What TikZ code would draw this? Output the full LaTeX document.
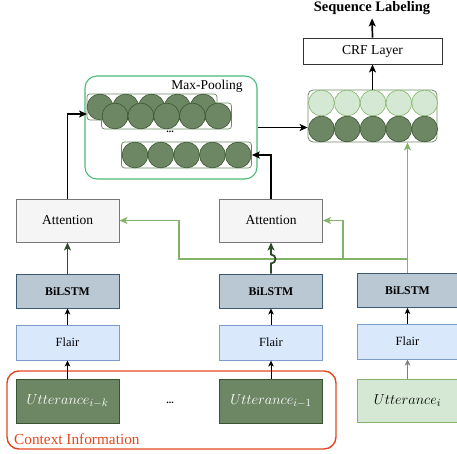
\documentclass[tikz,border=0pt]{standalone}
\usepackage{fontspec}
\setmainfont{Liberation Serif}
\usetikzlibrary{arrows.meta,calc}
\definecolor{attfill}{HTML}{F5F5F5}
\definecolor{attdraw}{HTML}{777777}
\definecolor{bilfill}{HTML}{BAC8D3}
\definecolor{bildraw}{HTML}{3B5A72}
\definecolor{flfill}{HTML}{DAE8FC}
\definecolor{fldraw}{HTML}{7C9CCB}
\definecolor{dkfill}{HTML}{6D8764}
\definecolor{dkdraw}{HTML}{3A5431}
\definecolor{ltfill}{HTML}{D5E8D4}
\definecolor{ltdraw}{HTML}{82B366}
\definecolor{mpgreen}{HTML}{4DB87A}
\definecolor{ctxred}{HTML}{E2481F}
\definecolor{arrgreen}{HTML}{2F4A2A}
\definecolor{vecdraw}{HTML}{6B8A63}
\begin{document}
\begin{tikzpicture}[x=1pt,y=-1pt,
  box/.style={draw, rectangle, inner sep=0pt, minimum width=103pt, line width=0.9pt},
  attbox/.style={box, fill=attfill, draw=attdraw, minimum height=43pt, font=\fontsize{13.5}{16}\selectfont},
  bilbox/.style={box, fill=bilfill, draw=bildraw, minimum height=34pt, font=\fontsize{11.8}{14}\selectfont\bfseries},
  flbox/.style={box, fill=flfill, draw=fldraw, minimum height=35pt, font=\fontsize{12.5}{15}\selectfont},
  utdark/.style={box, fill=dkfill, draw=dkdraw, minimum height=44pt, text=white, font=\fontsize{15}{18}\selectfont},
  utlight/.style={box, fill=ltfill, draw=ltdraw, minimum height=43pt, minimum width=101pt, font=\fontsize{15}{18}\selectfont},
  dc/.style={circle, draw=dkdraw, fill=dkfill, minimum size=25.8pt, inner sep=0pt, line width=0.6pt},
  lc/.style={circle, draw=ltdraw, fill=ltfill, minimum size=25.8pt, inner sep=0pt, line width=0.6pt},
  rowbox/.style={draw=vecdraw, rounded corners=3pt, minimum width=130pt, minimum height=26pt, inner sep=0pt, line width=0.7pt},
  blk/.style={-{Stealth[length=8pt,width=7pt,inset=2pt]}, line width=1.7pt, black},
  thinarr/.style={-{Stealth[length=6pt,width=5.5pt,inset=1.5pt]}, line width=1pt, black},
  grnarr/.style={-{Stealth[length=8pt,width=7pt,inset=2pt]}, line width=1.8pt, ltdraw},
  dkarr/.style={-{Stealth[length=8pt,width=7pt,inset=2pt]}, line width=1.8pt, arrgreen},
  dots/.style={font=\fontsize{10}{12}\selectfont\bfseries, inner sep=0pt}
]
\useasboundingbox (0,0) rectangle (457,454);

% context frame
\node[draw=ctxred, line width=1.4pt, rounded corners=12pt, minimum width=329pt, minimum height=78pt, inner sep=0pt] (ctx) at (171.5,410) {};
\node[anchor=west, text=ctxred, font=\fontsize{15.3}{18}\selectfont, inner sep=0pt] (ctxlab) at (14,439) {Context Information};

% utterances
\node[utdark] (ut1) at (67.5,401) {$Utterance_{i-k}$};
\node[utdark] (ut2) at (271,401) {$Utterance_{i-1}$};
\node[utlight] (ut3) at (407.5,400.5) {$Utterance_{i}$};
\node[dots] (udots) at (170,403) {...};

% flair
\node[flbox] (fl1) at (67.5,342.5) {Flair};
\node[flbox] (fl2) at (271,342.5) {Flair};
\node[flbox, minimum width=101pt] (fl3) at (407.5,341.5) {Flair};

% bilstm
\node[bilbox] (bil1) at (67.5,291) {BiLSTM};
\node[bilbox] (bil2) at (271,291) {BiLSTM};
\node[bilbox, minimum width=101pt] (bil3) at (407.5,290.5) {BiLSTM};

% attention
\node[attbox] (att1) at (67.5,220.5) {Attention};
\node[attbox] (att2) at (271,220.5) {Attention};

% max pooling
\node[draw=mpgreen, line width=1.1pt, rounded corners=12pt, minimum width=172pt, minimum height=103pt, inner sep=0pt] (mp) at (171,127.5) {};
\node[font=\fontsize{13.5}{16}\selectfont, inner sep=0pt] (mplab) at (207,86) {Max-Pooling};
\node[rowbox] (row1) at (152,107) {};
\foreach \k in {0,...,4} \node[dc] (ra\k) at ({100+25.8*\k},107) {};
\node[rowbox] (row2) at (166.5,116) {};
\foreach \k in {0,...,4} \node[dc] (rb\k) at ({115+25.8*\k},116) {};
\node[dots] (mpdots) at (170,132) {...};
\node[rowbox] (row3) at (186.5,155) {};
\foreach \k in {0,...,4} \node[dc] (rc\k) at ({135+25.8*\k},155) {};

% output vectors
\node[draw=vecdraw, rounded corners=5pt, minimum width=129pt, minimum height=52pt, inner sep=0pt, line width=0.8pt] (vec) at (372.5,116) {};
\foreach \k in {0,...,4} \node[lc] (va\k) at ({321.4+25.8*\k},103) {};
\foreach \k in {0,...,4} \node[dc] (vb\k) at ({321.4+25.8*\k},129) {};

% CRF
\node[box, draw=black!80, minimum width=139pt, minimum height=26pt, font=\fontsize{13.6}{16}\selectfont] (crf) at (372.5,51) {CRF Layer};
\node[font=\fontsize{14.5}{17}\selectfont\bfseries, anchor=base, inner sep=1pt] (seq) at (372,12) {Sequence Labeling};

% arrows bottom
\draw[thinarr] (ut1.north) -- (fl1.south);
\draw[thinarr] (ut2.north) -- (fl2.south);
\draw[thinarr, draw=black!50, line width=1.8pt] (ut3.north) -- (fl3.south);
\draw[thinarr] (fl1.north) -- (bil1.south);
\draw[thinarr] (fl2.north) -- (bil2.south);
\draw[thinarr] (fl3.north) -- (bil3.south);

% green context paths
\coordinate (gj) at (407.5,259);
\coordinate (gb1) at (179,259);
\coordinate (gb2) at (343,259);
\draw[grnarr] (bil3.north) -- (bil3.north |- vec.south);
\draw[grnarr] (gj) -- (gb1) |- (att1.east);
\draw[grnarr] (gb2) |- (att2.east);

% bilstm -> attention
\draw[dkarr] (bil1.north) -- (att1.south);
\coordinate (hop1) at (271,263.5);
\coordinate (hop2) at (271,254.5);
\draw[dkarr] (bil2.north) -- (hop1) .. controls (277,263.5) and (277,254.5) .. (hop2) -- (att2.south);

% attention -> max pooling
\coordinate (mpin) at (87,114);
\draw[blk] (att1.north) |- (mpin);
\draw[blk] (att2.north) |- (row3.east);
\draw[blk] (mp.east) -- (mp.east -| vec.west);
\draw[blk] (vec.north) -- (crf.south);
\draw[blk, shorten >=2pt] (crf.north) -- (seq.south);
\end{tikzpicture}
\end{document}
